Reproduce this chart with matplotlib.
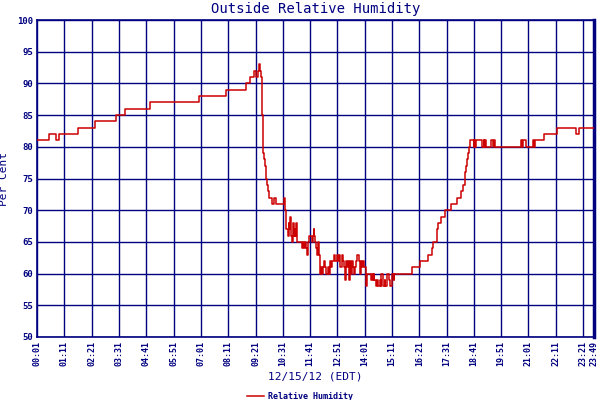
import matplotlib
matplotlib.use("Agg")
import matplotlib.pyplot as plt

# ===================== Data =====================
# minutes after midnight, humidity (%), step changes
minutos = [
    1, 32, 48, 57, 106, 149, 202, 227, 291, 417, 485, 536, 548, 557, 561, 566,
    570, 572, 575, 577, 579, 581, 582, 584, 587, 588, 590, 593, 596, 604, 608,
    613, 633, 636, 639, 640, 643, 646, 648, 649, 651, 655, 656, 658, 660, 661,
    663, 665, 667, 668, 680, 683, 685, 687, 690, 693, 695, 696, 698, 706, 708,
    711, 712, 714, 717, 718, 720, 723, 725, 727, 729, 732, 734, 736, 739, 741,
    746, 749, 752, 754, 757, 762, 764, 769, 772, 774, 778, 782, 785, 787, 790,
    792, 795, 797, 800, 802, 805, 808, 810, 813, 815, 818, 820, 826, 828, 831,
    833, 836, 840, 843, 845, 847, 856, 859, 861, 864, 866, 869, 872, 874, 879,
    882, 884, 887, 889, 892, 894, 897, 899, 902, 905, 910, 912, 915, 917, 961,
    982, 1003, 1014, 1017, 1027, 1030, 1037, 1048, 1061, 1077, 1088, 1093, 1097,
    1099, 1102, 1104, 1107, 1108, 1111, 1120, 1122, 1124, 1127, 1143, 1146,
    1148, 1150, 1152, 1166, 1171, 1173, 1176, 1243, 1245, 1248, 1252, 1255,
    1273, 1275, 1278, 1301, 1333, 1384, 1391, 1429,
]
umidade = [
    81, 82, 81, 82, 83, 84, 85, 86, 87, 88, 89, 90, 91, 92, 91, 92,
    93, 92, 91, 85, 81, 79, 78, 77, 76, 75, 74, 73, 72, 71, 72,
    71, 72, 70, 69, 67, 66, 68, 67, 69, 66, 65, 67, 68, 66, 67,
    66, 68, 66, 65, 64, 65, 64, 65, 64, 63, 64, 65, 66, 65, 66,
    67, 66, 65, 64, 63, 65, 64, 63, 60, 61, 60, 61, 62, 61, 60,
    61, 60, 62, 61, 62, 63, 62, 63, 62, 63, 61, 63, 62, 61, 59,
    62, 61, 62, 59, 62, 60, 62, 61, 60, 61, 62, 63, 62, 60, 62,
    61, 62, 61, 60, 58, 60, 59, 60, 59, 60, 59, 58, 59, 58, 59,
    58, 60, 59, 58, 59, 58, 59, 60, 59, 58, 59, 60, 59, 60, 61,
    62, 63, 64, 65, 67, 68, 69, 70, 71, 72, 73, 74, 75,
    76, 77, 78, 79, 80, 81, 80, 81, 80, 81, 80, 81,
    80, 81, 80, 81, 80, 81, 80, 81, 80, 81, 81, 80,
    81, 80, 81, 82, 83, 82, 83, 83,
]

# x ticks every 70 minutes from 00:01, plus the last reading
tick_min = list(range(1, 1402, 70)) + [1429]
tick_lbl = ["%02d:%02d" % (m // 60, m % 60) for m in tick_min]
y_ticks = list(range(50, 101, 5))

azul = "#000080"
vermelho = "#cc0000"
fonte = "DejaVu Sans Mono"

# ===================== Plot =====================
fig = plt.figure(figsize=(6, 4), dpi=100)
ax = fig.add_axes([0.062, 0.1575, 0.928, 0.7925])

ax.step(minutos, umidade, where="post", color=vermelho, lw=1.1,
        label="Relative Humidity", zorder=3)

ax.set_xlim(1, 1429)
ax.set_ylim(50, 100)
ax.set_xticks(tick_min)
ax.set_xticklabels(tick_lbl, rotation=90, fontsize=6, family=fonte,
                   color=azul, fontweight="bold")
ax.set_yticks(y_ticks)
ax.set_yticklabels([str(v) for v in y_ticks], fontsize=6.5, family=fonte,
                   color=azul, fontweight="bold")
ax.tick_params(length=0, pad=3)
ax.grid(True, color=azul, lw=1)
for lado in ax.spines.values():
    lado.set_color(azul)
    lado.set_linewidth(1.2)
ax.spines["right"].set_linewidth(2.5)

ax.set_title("Outside Relative Humidity", fontsize=10, family=fonte,
             color=azul, pad=5)
ax.set_ylabel("Per Cent", fontsize=8, family=fonte, color=azul, labelpad=6)
ax.set_xlabel("12/15/12 (EDT)", fontsize=8, family=fonte, color=azul,
              labelpad=4)

leg = fig.legend(loc="lower center", bbox_to_anchor=(0.5, -0.022), frameon=False,
                 prop={"family": fonte, "size": 6, "weight": "bold"},
                 handlelength=2, handletextpad=0.5)
for t in leg.get_texts():
    t.set_color(azul)

fig.savefig("out.png", dpi=100)
